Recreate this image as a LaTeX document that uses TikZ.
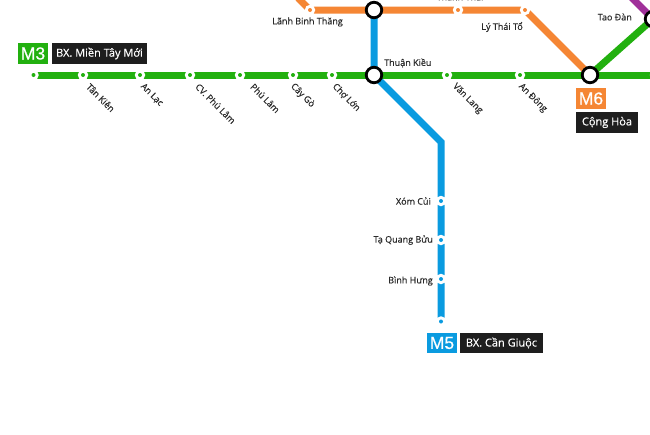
\documentclass[tikz,border=0pt]{standalone}
\usepackage{fontspec}
\setmainfont{Open Sans}
\newfontfamily\labelfont[FakeBold=0.4]{Open Sans}
\newfontfamily\tagfont[FakeBold=0.5]{Liberation Sans}
\usepackage{tikz}
\definecolor{greenline}{HTML}{22B00F}
\definecolor{blueline}{HTML}{0A9BE0}
\definecolor{orangeline}{HTML}{F58634}
\definecolor{purpleline}{HTML}{A0309A}
\definecolor{darkbox}{HTML}{1E1E1E}
\definecolor{stationtext}{HTML}{2A2A2A}
\tikzset{
  lineseg/.style={line width=7pt},
  halt/.style={circle,fill=white,minimum size=10.5pt,inner sep=0pt},
  hub/.style={circle,draw=black,fill=white,line width=2.8pt,minimum size=15.5pt,inner sep=0pt},
  linetag/.style={font=\tagfont\fontsize{17.5}{17.5}\selectfont,text=white,minimum width=30pt,inner sep=0pt},
  endtag/.style={fill=darkbox,text=white,font=\labelfont\fontsize{11}{11}\selectfont,inner sep=0pt},
  namelabel/.style={text=stationtext,font=\labelfont\fontsize{9}{9}\selectfont,inner sep=0pt}
}
\begin{document}
\begin{tikzpicture}[x=1pt,y=-1pt]
\useasboundingbox (0,0) rectangle (650,434);
\clip (0,0) rectangle (650,434);

%Orange
\draw[lineseg,orangeline] (298,-2) -- (310,10) -- (525,10) -- (590,75);
%Purple
\draw[lineseg,purpleline] (628,-6) -- (653,19);
%Blue
\draw[lineseg,blueline] (374,10) -- (374,75) -- (441,142) -- (441,320);
%Green
\draw[lineseg,greenline] (34,75) -- (650,75);
\draw[lineseg,greenline] (590,75) -- (653,19);

%M3 halts
\foreach \name/\px in {a/33.5,b/83,c/140,d/190,e/240,f/293,g/332,h/447,i/520,j/655}{
  \node[halt] (halt\name) at (\px,75) {};
  \fill[greenline] (halt\name) circle (2pt);
}
%M5 halts
\foreach \name/\py in {a/201,b/240,c/279,d/321.5}{
  \node[halt] (stop\name) at (441,\py) {};
  \fill[blueline] (stop\name) circle (2pt);
}
%Orange halts
\foreach \name/\px in {a/310,b/458,c/525}{
  \node[halt] (orange\name) at (\px,10) {};
  \fill[orangeline] (orange\name) circle (2pt);
}

%Hubs
\node[hub] (hubtop) at (374,10) {};
\node[hub] (hubkieu) at (374,75) {};
\node[hub] (hubhoa) at (590,75) {};
\node[hub] (hubtao) at (653,19) {};

%Diagonal labels
\foreach \name/\px/\txt in {a/88/Tân Kiên,b/142/An Lạc,c/197/CV. Phú Lâm,d/252/Phú Lâm,e/292/Cây Gò,f/334/Chợ Lớn,h/454/Văn Lang,i/520/An Đông}{
  \node[namelabel,rotate=-45,anchor=west] (diag\name) at (\px,85) {\txt};
}

%Plain labels
\node[namelabel,anchor=west] (kieulabel) at (384,63) {Thuận Kiều};
\node[namelabel,anchor=east] (binhlabel) at (343,22) {Lãnh Binh Thăng};
\node[namelabel,anchor=east] (tolabel) at (523,27) {Lý Thái Tổ};
\node[namelabel] (thailabel) at (460,-3) {Thành Thái};
\node[namelabel,anchor=east] (taolabel) at (632,17) {Tao Đàn};
\node[namelabel,anchor=east] (cuilabel) at (431,201) {Xóm Củi};
\node[namelabel,anchor=east] (buulabel) at (433,240) {Tạ Quang Bửu};
\node[namelabel,anchor=east] (hunglabel) at (433,281) {Bình Hưng};

%Line tags
\node[linetag,fill=greenline,minimum height=21pt] (tagthree) at (33,53.5) {M3};
\node[endtag,minimum width=95pt,minimum height=21pt] (endthree) at (99.5,53.5) {BX. Miền Tây Mới};
\node[linetag,fill=orangeline,minimum height=21pt] (tagsix) at (591,98.5) {M6};
\node[endtag,minimum width=62pt,minimum height=21pt] (endsix) at (607,122.5) {Cộng Hòa};
\node[linetag,fill=blueline,minimum height=20pt] (tagfive) at (442,343) {M5};
\node[endtag,minimum width=83pt,minimum height=20pt] (endfive) at (501.5,343) {BX. Cần Giuộc};

\end{tikzpicture}
\end{document}
